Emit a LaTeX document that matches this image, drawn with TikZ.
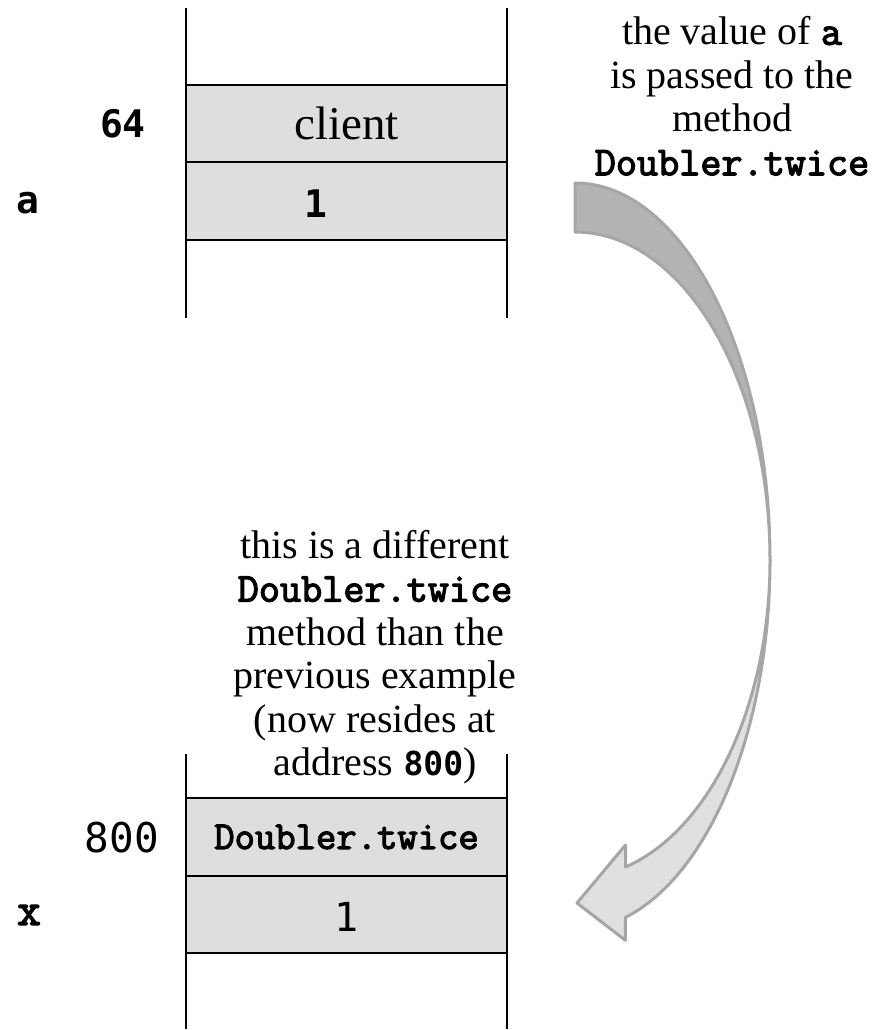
\documentclass[tikz,border=0pt]{standalone}
\usepackage{fontspec}
\setmainfont{Liberation Serif}
\newfontfamily\dvfont{DejaVu Sans Mono}
\newfontfamily\courfont[AutoFakeBold=3]{Latin Modern Mono}
\newcommand\code[1]{{\courfont\bfseries\fontsize{41}{43.5}\selectfont #1}}
\definecolor{cellgray}{HTML}{DEDEDE}
\definecolor{arrowline}{HTML}{A6A6A6}
\definecolor{arrowdark}{HTML}{B3B3B3}
\definecolor{arrowlight}{HTML}{E0E0E0}
\tikzset{
  cell/.style={draw, fill=cellgray, line width=2.2pt, minimum width=321pt,
    minimum height=77.5pt, inner sep=0pt, outer sep=0pt},
  wall/.style={line width=2.2pt},
  note/.style={align=center, font=\fontsize{40}{43.5}\selectfont}
}
\begin{document}
\begin{tikzpicture}[x=1pt, y=1pt]
            \useasboundingbox (0,0) rectangle (889,-1030);
            % upper frame
            \node[cell, font=\fontsize{47}{50}\selectfont] (client) at (346.5,-123.5) {client};
            \node[cell] (aval) at (346.5,-201) {};
            \node at (316,-204) {\dvfont\bfseries\fontsize{38}{40}\selectfont 1};
            \draw[wall] (client.north west) -- ++(0,77) (client.north east) -- ++(0,77);
            \draw[wall] (aval.south west) -- ++(0,-78) (aval.south east) -- ++(0,-78);
            \node (addrtop) at (123,-124) {\dvfont\bfseries\fontsize{38}{40}\selectfont 64};
            \node (namea) at (28,-203) {\dvfont\bfseries\fontsize{38}{40}\selectfont a};
            % lower frame
            \node[cell] (twice) at (346.5,-837) {\courfont\bfseries\fontsize{39.5}{42}\selectfont Doubler.twice};
            \node[cell] (xval) at (346.5,-914.5) {};
            \node at (346.5,-917) {\dvfont\fontsize{40}{42}\selectfont 1};
            \draw[wall] (twice.north west) -- ++(0,44) (twice.north east) -- ++(0,44);
            \draw[wall] (xval.south west) -- ++(0,-76) (xval.south east) -- ++(0,-76);
            \node (addrbot) at (122,-838) {\dvfont\fontsize{41}{42}\selectfont 800};
            \node (namex) at (29,-915) {\courfont\bfseries\fontsize{46}{48}\selectfont x};
            % notes
            \node[note] (passnote) at (732,-96) {the value of \code{a}\\is passed to the\\method\\\code{Doubler.twice}};
            \node[note] (diffnote) at (375,-657) {this is a different\\\code{Doubler.twice}\\method than the\\previous example\\(now resides at\\address {\dvfont\bfseries\fontsize{33}{43.5}\selectfont 800})};
            % curved arrow
            \filldraw[fill=arrowdark, draw=arrowline, line width=3pt, line join=round]
              (575,-183) arc[start angle=90, end angle=0, x radius=195, y radius=377]
              arc[start angle=0, end angle=90, x radius=195, y radius=328] -- cycle;
            \filldraw[fill=arrowlight, draw=arrowline, line width=3pt, line join=round]
              (770,-560) arc[start angle=0, end angle=-75, x radius=195, y radius=370]
              -- ++(0,-23) -- (577,-903) -- (625.5,-845) -- (625.5,-867)
              arc[start angle=-75, end angle=0, x radius=195, y radius=318] -- cycle;
          \end{tikzpicture}
\end{document}
